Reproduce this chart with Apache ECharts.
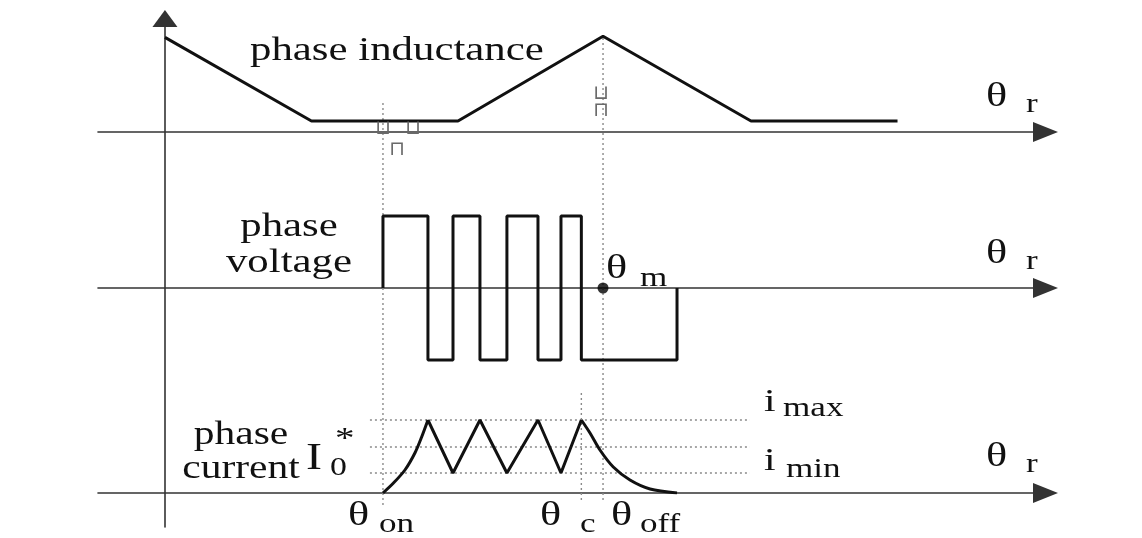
<!DOCTYPE html>
<html>
<head>
<meta charset="utf-8">
<script src="https://cdn.jsdelivr.net/npm/echarts@6/dist/echarts.min.js"></script>
<style>
  html, body { margin: 0; padding: 0; background: #fff; }
  #chart { width: 1142px; height: 538px; }
</style>
</head>
<body>
<div id="chart"></div>
<script>
// rotor angle axis, one unit ~ a tenth of an inductance segment
const thetaMin = -4.57;
const thetaMax = 60.1;

// phase inductance profile (breakpoints)
const inductanceTheta = [0, 10, 20, 29.9, 40, 50];
const inductanceValue = [8.6, 1, 1, 8.7, 1, 1];

// phase voltage switching instants and levels (held until next instant)
const voltageTheta = [14.88, 14.88, 17.95, 19.66, 21.5, 23.34, 25.46, 27.03, 28.42, 34.95];
const voltageLevel = [0, 1, -1, 1, -1, 1, -1, 1, -1, 0];

// phase current: first rise, chopping zigzag, tail after theta_c
const riseTheta = [14.88, 15.58, 16.38, 17.06, 17.52, 17.95];
const riseValue = [0, 0.97, 2.3, 4.0, 5.6, 7.3];
const chopTheta = [17.95, 19.66, 21.5, 23.34, 25.46, 27.03, 28.42];
const chopValue = [7.3, 2.0, 7.3, 2.0, 7.3, 2.0, 7.3];
const tailTheta = [28.42, 29.01, 29.69, 30.6, 31.74, 33.11, 34.95];
const tailValue = [7.3, 6.0, 4.3, 2.6, 1.3, 0.4, 0];

// current reference levels: i_max, I0*, i_min
const currentLevels = [7.3, 4.6, 2.0];
const levelSpan = [13.99, 39.93];

// characteristic angles and the height range (0-100 of the whole figure) of their guides
const thetaOn = 14.88;
const thetaC = 28.42;
const thetaM = 29.9;
const guideAngles = [thetaOn, thetaC, thetaM];
const guideFrom = [4.33, 5.31, 5.31];
const guideTo = [83.97, 26.55, 96.36];

const SERIF = '"Liberation Serif", "DejaVu Serif", serif';
const STRETCH = 1.3;
const INK = '#111';
const AXIS = '#333';

function zip(a, b) { return a.map((v, i) => [v, b[i]]); }

function txt(x, base, s, size, align, stretch) {
  return {
    type: 'text', x: x, y: base - size * 0.34, scaleX: stretch || STRETCH, z: 100,
    style: {
      text: s, fontSize: size, fontFamily: SERIF, fill: INK,
      textAlign: align || 'left', textVerticalAlign: 'middle'
    }
  };
}
function pole(x, base, s) {
  return {
    type: 'text', x: x, y: base, z: 100,
    style: { text: s, fontSize: 20, fontFamily: '"DejaVu Sans", sans-serif', fill: '#6a6a6a',
      textAlign: 'center', textVerticalAlign: 'middle' }
  };
}

const chart = echarts.init(document.getElementById('chart'), null, { renderer: 'canvas' });

const gridBox = [
  { left: 98, width: 947.5, top: 22, height: 110 },
  { left: 98, width: 947.5, top: 180, height: 216 },
  { left: 98, width: 947.5, top: 393, height: 100 },
  { left: 98, width: 947.5, top: 18.5, height: 508.5 }
];
const yRange = [[0, 10], [-1.5, 1.5], [0, 10], [0, 100]];

const xAxes = gridBox.map((g, i) => ({
  type: 'value', gridIndex: i, min: thetaMin, max: thetaMax,
  show: i < 3,
  axisLine: { show: i < 3, onZero: true, symbol: ['none', 'triangle'], symbolSize: [20, 25],
    lineStyle: { color: AXIS, width: 1.6 } },
  axisTick: { show: false }, axisLabel: { show: false }, splitLine: { show: false }
}));
const yAxes = gridBox.map((g, i) => ({
  type: 'value', gridIndex: i, min: yRange[i][0], max: yRange[i][1],
  show: i === 3,
  axisLine: { show: i === 3, onZero: true, symbol: ['none', 'triangle'], symbolSize: [25, 17],
    lineStyle: { color: AXIS, width: 1.6 } },
  axisTick: { show: false }, axisLabel: { show: false }, splitLine: { show: false }
}));

const solid = { color: INK, width: 3 };
const dotted = { color: '#8a8a8a', width: 1.4, type: [2, 3] };

const series = [
  { type: 'line', xAxisIndex: 0, yAxisIndex: 0, data: zip(inductanceTheta, inductanceValue),
    symbol: 'none', lineStyle: solid, silent: true },
  { type: 'line', xAxisIndex: 1, yAxisIndex: 1, data: zip(voltageTheta, voltageLevel),
    step: 'end', symbol: 'none', lineStyle: solid, silent: true },
  { type: 'scatter', xAxisIndex: 1, yAxisIndex: 1, data: [[thetaM, 0]],
    symbolSize: 11, itemStyle: { color: '#000' }, z: 5, silent: true },
  { type: 'line', xAxisIndex: 2, yAxisIndex: 2, data: zip(riseTheta, riseValue),
    smooth: 0.3, symbol: 'none', lineStyle: solid, silent: true },
  { type: 'line', xAxisIndex: 2, yAxisIndex: 2, data: zip(chopTheta, chopValue),
    symbol: 'none', lineStyle: solid, silent: true },
  { type: 'line', xAxisIndex: 2, yAxisIndex: 2, data: zip(tailTheta, tailValue),
    smooth: 0.3, symbol: 'none', lineStyle: solid, silent: true }
];
currentLevels.forEach(v => {
  series.push({ type: 'line', xAxisIndex: 2, yAxisIndex: 2, data: [[levelSpan[0], v], [levelSpan[1], v]],
    symbol: 'none', lineStyle: dotted, z: 1, silent: true });
});
guideAngles.forEach((a, i) => {
  series.push({ type: 'line', xAxisIndex: 3, yAxisIndex: 3, data: [[a, guideFrom[i]], [a, guideTo[i]]],
    symbol: 'none', lineStyle: dotted, z: 1, silent: true });
});

const labels = [
  txt(250, 63, 'phase inductance', 34, 'left', 1.26),
  txt(289, 239, 'phase', 34, 'center', 1.26),
  txt(289, 275, 'voltage', 34, 'center', 1.26),
  txt(241, 447, 'phase', 34, 'center', 1.22),
  txt(241, 481, 'current', 34, 'center', 1.22),
  txt(306, 472, 'I', 37),
  txt(330, 477, '0', 26),
  txt(335, 449, '*', 30),
  // theta_r on each axis
  txt(986, 109, 'θ', 34), txt(1026, 114, 'r', 27),
  txt(986, 266, 'θ', 34), txt(1026, 271, 'r', 27),
  txt(986, 469, 'θ', 34), txt(1026, 474, 'r', 27),
  txt(606, 281, 'θ', 34), txt(640, 288, 'm', 27),
  txt(348, 528, 'θ', 34), txt(379, 534, 'on', 27),
  txt(540, 528, 'θ', 34), txt(580, 534, 'c', 27),
  txt(611, 528, 'θ', 34), txt(640, 534, 'off', 27),
  txt(764, 413, 'i', 32), txt(783, 418, 'max', 27),
  txt(764, 472, 'i', 32), txt(786, 479, 'min', 27),
  // stator / rotor pole marks
  pole(383, 129, '⊔'), pole(413, 129, '⊔'), pole(397, 150, '⊓'),
  pole(601, 94, '⊔'), pole(601, 111, '⊓')
];

chart.setOption({
  backgroundColor: '#fff',
  animation: false,
  grid: gridBox,
  xAxis: xAxes,
  yAxis: yAxes,
  series: series,
  graphic: labels
});
</script>
</body>
</html>
